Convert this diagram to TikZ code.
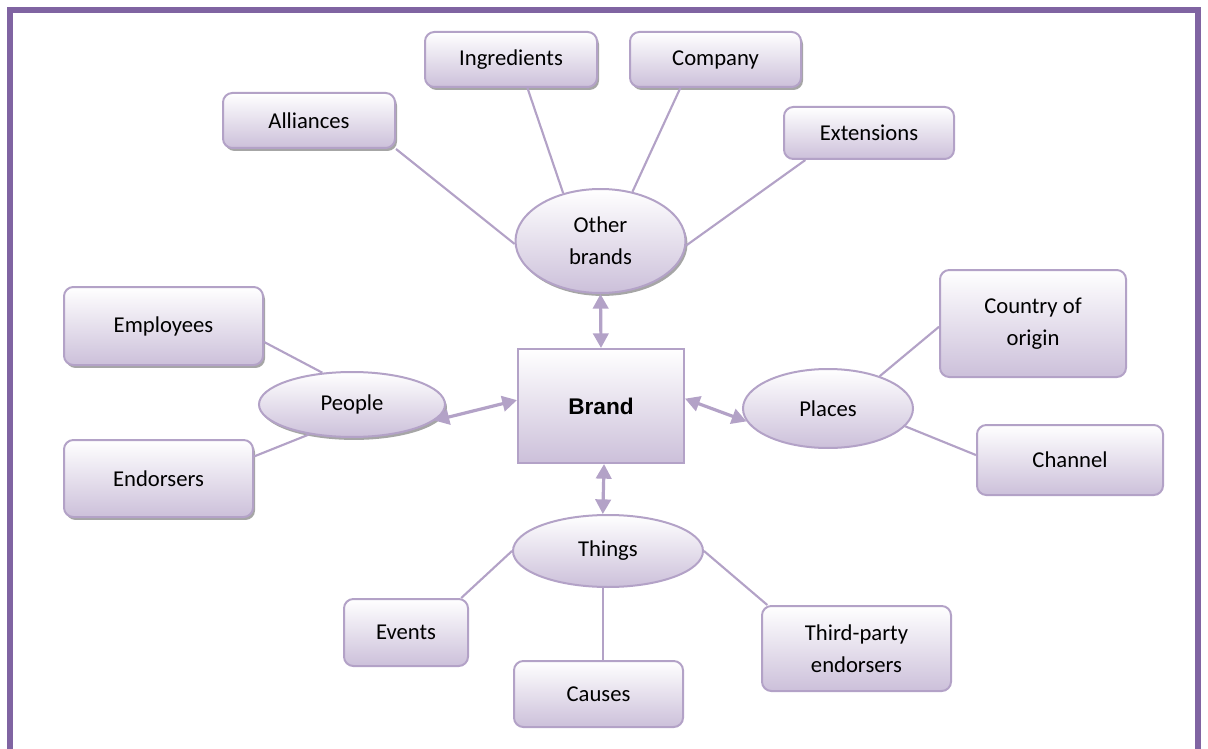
\documentclass[tikz,border=0pt]{standalone}
\usepackage{fontspec}
\setmainfont{Carlito}
\newfontfamily\brandfont{Liberation Sans}
\usepackage{tikz}
\usetikzlibrary{shapes,arrows.meta,shadows}
\definecolor{framecol}{HTML}{8064A2}
\definecolor{edgecol}{HTML}{B3A2C7}
\definecolor{fillcol}{HTML}{CCC0DA}
\tikzstyle{rbox} = [rectangle, rounded corners=7pt, draw=edgecol, line width=1.5pt, top color=white, bottom color=fillcol, align=center, font=\fontsize{17}{24}\selectfont, inner sep=2pt]
\tikzstyle{ebox} = [ellipse, draw=edgecol, line width=1.5pt, top color=white, bottom color=fillcol, align=center, font=\fontsize{17}{24}\selectfont, inner sep=0pt]
\tikzstyle{cbox} = [rectangle, draw=edgecol, line width=1.5pt, top color=white, bottom color=fillcol, font=\brandfont\bfseries\fontsize{17}{20}\selectfont]
\tikzstyle{shad} = [drop shadow={shadow xshift=1.5pt, shadow yshift=-2.2pt, fill=gray!70, opacity=1}]
\tikzstyle{line} = [draw=edgecol, line width=1.6pt]
\tikzstyle{both} = [draw=edgecol, line width=2.4pt, {Triangle[length=11pt,width=11.5pt]}-{Triangle[length=11pt,width=11.5pt]}]
\tikzstyle{frame} = [draw=framecol, line width=4.5pt, line join=miter]

\begin{document}
\begin{tikzpicture}[x=0.75pt, y=-0.75pt]
			\useasboundingbox (0,0) rectangle (1208,749);
			\path [frame] (10,770) -- (10,10) -- (1198,10) -- (1198,770);

			% other brands
			\node [rbox, shad, minimum width=129pt, minimum height=41.25pt] (alliances) at (309,120.5) {Alliances};
			\node [rbox, shad, minimum width=129pt, minimum height=41.25pt] (ingredients) at (511,59.5) {Ingredients};
			\node [rbox, shad, minimum width=128.25pt, minimum height=41.25pt] (company) at (715.5,59.5) {Company};
			\node [rbox, minimum width=127.5pt, minimum height=39pt] (extensions) at (869,133) {Extensions};
			\node [ebox, shad, minimum width=127.5pt, minimum height=78pt] (otherb) at (600.5,241) {Other\\brands};

			% centre
			\node [cbox, minimum width=124.5pt, minimum height=85.5pt] (brand) at (601,406) {Brand};

			% people
			\node [ebox, shad, minimum width=139.5pt, minimum height=48.75pt] (people) at (352,404.5) {People};
			\node [rbox, shad, minimum width=149.25pt, minimum height=58.5pt] (employees) at (163.5,326) {Employees};
			\node [rbox, shad, minimum width=141.75pt, minimum height=57.75pt] (endorsers) at (158.5,478.5) {Endorsers};

			% places
			\node [ebox, minimum width=127.5pt, minimum height=59.25pt] (places) at (828,408.5) {Places};
			\node [rbox, minimum width=139.5pt, minimum height=80.25pt] (country) at (1033,323.5) {Country of\\origin};
			\node [rbox, minimum width=139.5pt, minimum height=52.5pt] (channel) at (1070,460) {Channel};

			% things
			\node [ebox, minimum width=142.5pt, minimum height=54pt] (things) at (608,551) {Things};
			\node [rbox, minimum width=93pt, minimum height=50.25pt] (events) at (406,632.5) {Events};
			\node [rbox, minimum width=126.75pt, minimum height=49.5pt] (causes) at (598.5,694) {Causes};
			\node [rbox, minimum width=141.75pt, minimum height=63.75pt] (thirdp) at (856.5,648.5) {Third-party\\endorsers};

			\path [line] (alliances.south east) -- (otherb.182);
			\path [line] (ingredients.-60) -- (otherb.128);
			\path [line] (company.219) -- (otherb.57);
			\path [line] (extensions.203) -- (otherb.-3);
			\path [line] (employees.-9) -- (people.133);
			\path [line] (endorsers.13) -- (people.215);
			\path [line] (places.32) -- (country.182);
			\path [line] (places.-13) -- (channel.177);
			\path [line] (things.west) -- (events.32);
			\path [line] (things.east) -- (thirdp.154);
			\path [line] (causes.82) -- (causes.82 |- things.south);

			\path [both] (otherb.south) -- (brand.north);
			\path [both] (people.-11) -- (brand.176);
			\path [both] (brand.5) -- (places.189);
			\path [both] (brand.-87) -- (things.98);
		\end{tikzpicture}
\end{document}
